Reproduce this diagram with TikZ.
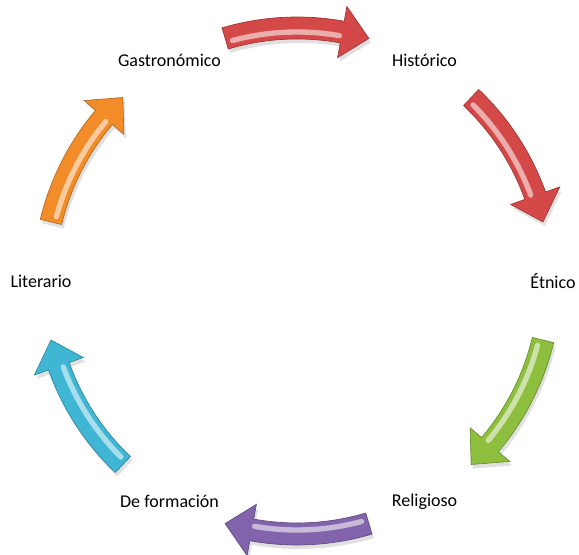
\documentclass[tikz,border=0pt]{standalone}
\usepackage{fontspec}
\setmainfont{Carlito}
\usepackage{tikz}

\definecolor{arrowRed}{RGB}{212,72,72}
\definecolor{arrowGreen}{RGB}{142,190,62}
\definecolor{arrowPurple}{RGB}{130,100,172}
\definecolor{arrowCyan}{RGB}{62,182,212}
\definecolor{arrowOrange}{RGB}{242,140,40}

\begin{document}
\begin{tikzpicture}[x=0.75pt, y=0.75pt,
    label/.style={font=\fontsize{13.5}{16}\selectfont}]
    \useasboundingbox (-297,-274) rectangle (282,281);

    \node[label] (gastro) at (120:255) {Gastronómico};
    \node[label] (histo) at (60:255) {Histórico};
    \node[label] (etnico) at (0:256) {Étnico};
    \node[label] (relig) at (-60:255) {Religioso};
    \node[label] (forma) at (-120:255) {De formación};
    \node[label] (liter) at (180:256) {Literario};

    % curved block arrows, clockwise
    \foreach \c/\col in {90/arrowRed, 30/arrowRed, -30/arrowGreen, -90/arrowPurple, -150/arrowCyan, 150/arrowOrange} {
        \pgfmathsetmacro\ta{\c+16.5}
        \pgfmathsetmacro\tb{\c-16.5}
        \pgfmathsetmacro\th{\c-16.5+6.2}
        \fill[black, opacity=0.12, shift={(2,-4)}] (\ta:264) arc[start angle=\ta, end angle=\th, radius=264] -- (\th:279) -- (\tb:253) -- (\th:227) -- (\th:242) arc[start angle=\th, end angle=\ta, radius=242] -- cycle;
        \filldraw[fill=\col, draw=\col!75!black, line width=0.5] (\ta:264) arc[start angle=\ta, end angle=\th, radius=264] -- (\th:279) -- (\tb:253) -- (\th:227) -- (\th:242) arc[start angle=\th, end angle=\ta, radius=242] -- cycle;
        \draw[\col!45!white, line width=4, line cap=round] (\ta-1.5:249) arc[start angle=\ta-1.5, end angle=\th+0.5, radius=249];
    }
\end{tikzpicture}
\end{document}
